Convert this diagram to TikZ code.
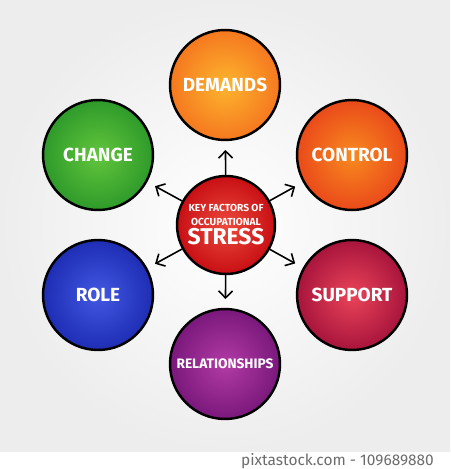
\documentclass[tikz,border=0pt]{standalone}
\usepackage{fontspec}
\setsansfont{Fira Sans}
\usetikzlibrary{arrows.meta}

\definecolor{demandsin}{HTML}{FDB52E}
\definecolor{demandsout}{HTML}{F5781F}
\definecolor{controlin}{HTML}{F88A1F}
\definecolor{controlout}{HTML}{EA4A1A}
\definecolor{supportin}{HTML}{EA4459}
\definecolor{supportout}{HTML}{A8143C}
\definecolor{relin}{HTML}{B23BA6}
\definecolor{relout}{HTML}{7A187C}
\definecolor{rolein}{HTML}{4258E2}
\definecolor{roleout}{HTML}{1E2DB4}
\definecolor{changein}{HTML}{62C63C}
\definecolor{changeout}{HTML}{2E9A2A}
\definecolor{stressin}{HTML}{EC4A3C}
\definecolor{stressout}{HTML}{C80F14}

\tikzset{
  factor/.style={circle, draw, line width=1.4pt, minimum size=2.2cm, inner sep=0pt,
    shading=radial, text=white, font=\sffamily\bfseries\fontsize{10.8}{12}\selectfont},
  link/.style={line width=0.9pt, -{Straight Barb[length=4pt,width=8pt]}, shorten >=5pt},
}

\begin{document}
\begin{tikzpicture}[x=0.02cm, y=-0.02cm]
	\useasboundingbox (0,0) rectangle (450,469);
	\shade[inner color=white, outer color=gray!14] (0,0) rectangle (450,451);
	\node[factor, inner color=demandsin, outer color=demandsout] (1) at (225,85) {DEMANDS};
	\node[factor, inner color=controlin, outer color=controlout] (2) at (352,155) {CONTROL};
	\node[factor, inner color=supportin, outer color=supportout] (3) at (352,295) {SUPPORT};
	\node[factor, inner color=relin, outer color=relout,
		font=\sffamily\bfseries\fontsize{7.8}{9}\selectfont] (4) at (225,364) {RELATIONSHIPS};
	\node[factor, inner color=rolein, outer color=roleout] (5) at (98,295) {ROLE};
	\node[factor, inner color=changein, outer color=changeout] (6) at (98,155) {CHANGE};
	\node[factor, minimum size=1.96cm, inner color=stressin, outer color=stressout,
		align=center, font=\sffamily\bfseries] (0) at (226,225)
		{\fontsize{5.8}{6.5}\selectfont KEY FACTORS OF\\[-4.5pt]
		 \fontsize{5.8}{6.5}\selectfont OCCUPATIONAL\\[-0.8pt]
		 \fontsize{13}{13}\selectfont STRESS};
	\foreach \n in {1,...,6}
		\draw[link] (0) -- (\n);
	\node[text=gray!85!black, font=\sffamily\fontsize{8.8}{10}\selectfont, anchor=east] (mark) at (440,461) {pixtastock.com - 109689880};
\end{tikzpicture}
\end{document}
